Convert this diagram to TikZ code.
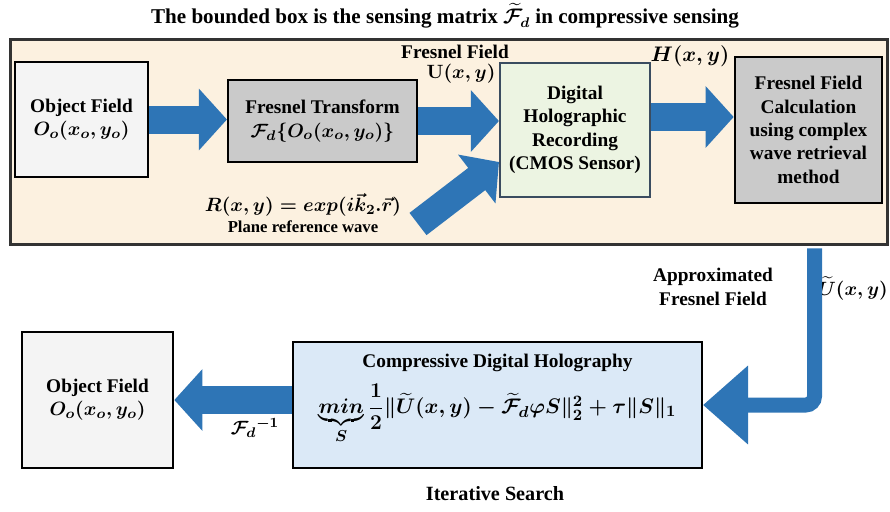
\documentclass[tikz,border=0pt]{standalone}
\usepackage{amsmath}
\usepackage{fontspec}
\setmainfont{Liberation Serif}
\usepackage{tikz}
\usetikzlibrary{positioning}
\usetikzlibrary{calc}
\usetikzlibrary{arrows.meta}

\definecolor{beige}{RGB}{252,241,224}
\definecolor{objgray}{RGB}{244,244,244}
\definecolor{boxgray}{RGB}{202,202,202}
\definecolor{mint}{RGB}{236,244,226}
\definecolor{skyblue}{RGB}{219,233,247}
\definecolor{arrowblue}{RGB}{46,117,182}
\definecolor{slate}{RGB}{58,76,96}

\begin{document}
\begin{tikzpicture}[
    x=0.02cm, y=-0.02cm,  % one unit is one pixel of the sketch
    font=\fontsize{11}{13.3}\selectfont\bfseries\boldmath,
    ]
% -------------------------------------------------
\tikzset{
  base/.style={draw, align=center, inner sep=2pt},
  blk/.style={base, line width=1.5pt},
  lbl/.style={inner sep=1pt, align=center},
  fat/.style={draw=arrowblue, line width=0.56cm,
    -{Triangle[length=0.56cm, width=1.2cm]}},
  fatL/.style={draw=arrowblue, line width=0.3cm, rounded corners=5pt,
    -{Triangle[length=0.9cm, width=1.52cm]}}
}
% -------------------------------------------------
\useasboundingbox (0,0) rectangle (890,511);

% the sensing matrix frame
\node [lbl, font=\fontsize{12}{14}\selectfont\bfseries\boldmath] (ttl) at (445,16)
  {The bounded box is the sensing matrix $\widetilde{\mathcal{F}}_d$ in compressive sensing};
\node [draw=black!80, line width=1.7pt, fill=beige,
  minimum width=17.56cm, minimum height=4.12cm] (sens) at (449,142) {};

% Placing the nodes
\node [blk, fill=objgray, minimum width=2.66cm, minimum height=2.30cm] (obj) at (81.5,119.5)
  {Object Field\\$O_o(x_o,y_o)$};
\node [blk, fill=boxgray, line width=1.2pt, minimum width=3.78cm, minimum height=1.64cm] (ft) at (322.5,121)
  {Fresnel Transform\\$\mathcal{F}_d\{O_o(x_o,y_o)\}$};
\node [base, draw=slate, fill=mint, line width=1.2pt, minimum width=3.00cm, minimum height=2.68cm] (dhr) at (575,130)
  {Digital\\Holographic\\Recording\\(CMOS Sensor)};
\node [blk, fill=boxgray, minimum width=2.94cm, minimum height=2.92cm] (ffc) at (808.5,130)
  {Fresnel Field\\Calculation\\using complex\\wave retrieval\\method};
\node [blk, fill=skyblue, line width=1.2pt, minimum width=8.18cm, minimum height=2.52cm] (cdh) at (497.5,405)
  {Compressive Digital Holography\\[6pt]
   \fontsize{13}{15}\selectfont
   $\underbrace{min}_{S}\dfrac{1}{2}\|\widetilde{U}(x,y)-\widetilde{\mathcal{F}}_d\varphi S\|_2^2+\tau\|S\|_1$\\[6pt]};
\node [blk, fill=objgray, minimum width=3.02cm, minimum height=2.72cm] (obj2) at (97.5,400)
  {Object Field\\$O_o(x_o,y_o)$};

% labels
\node [lbl] (ffl) at (455,52) {Fresnel Field};
\node [lbl] (uxy) at (461,74) {$\mathbf{U}(x,y)$};
\node [lbl, font=\fontsize{13}{15}\selectfont\bfseries\boldmath] (hxy) at (690,56) {$H(x,y)$};
\node [lbl] (rxy) at (303,205) {$R(x,y)=exp(i\vec{k}_2.\vec{r})$};
\node [lbl, font=\fontsize{9.5}{11}\selectfont\bfseries] (prw) at (303,227) {Plane reference wave};
\node [lbl] (afl) at (713,287) {Approximated\\Fresnel Field};
\node [lbl, font=\fontsize{10.5}{12}\selectfont\bfseries\boldmath] (uti) at (853,288) {$\widetilde{U}(x,y)$};
\node [lbl] (finv) at (255,428) {${\mathcal{F}_d}^{-1}$};
\node [lbl, font=\fontsize{11.5}{13}\selectfont\bfseries] (its) at (495,494) {Iterative Search};

% connectors
\coordinate (rw) at (418,224);
\coordinate (dhrin) at ($(dhr.west)+(0,32)$);
\coordinate (hout) at ($(dhr.east)+(0,-13)$);
\coordinate (utop) at ($(sens.south -| ffc.south)+(6,2)$);

\draw [fat] (obj.east) -- (obj.east -| ft.west);
\draw [fat] (ft.east) -- (ft.east -| dhr.west);
\draw [fat] (rw) -- (dhrin);
\draw [fat] (hout) -- (hout -| ffc.west);
\draw [fatL] (utop) |- (cdh.east);
\draw [fat] (cdh.west |- obj2.east) -- (obj2.east);

\end{tikzpicture}
\end{document}
